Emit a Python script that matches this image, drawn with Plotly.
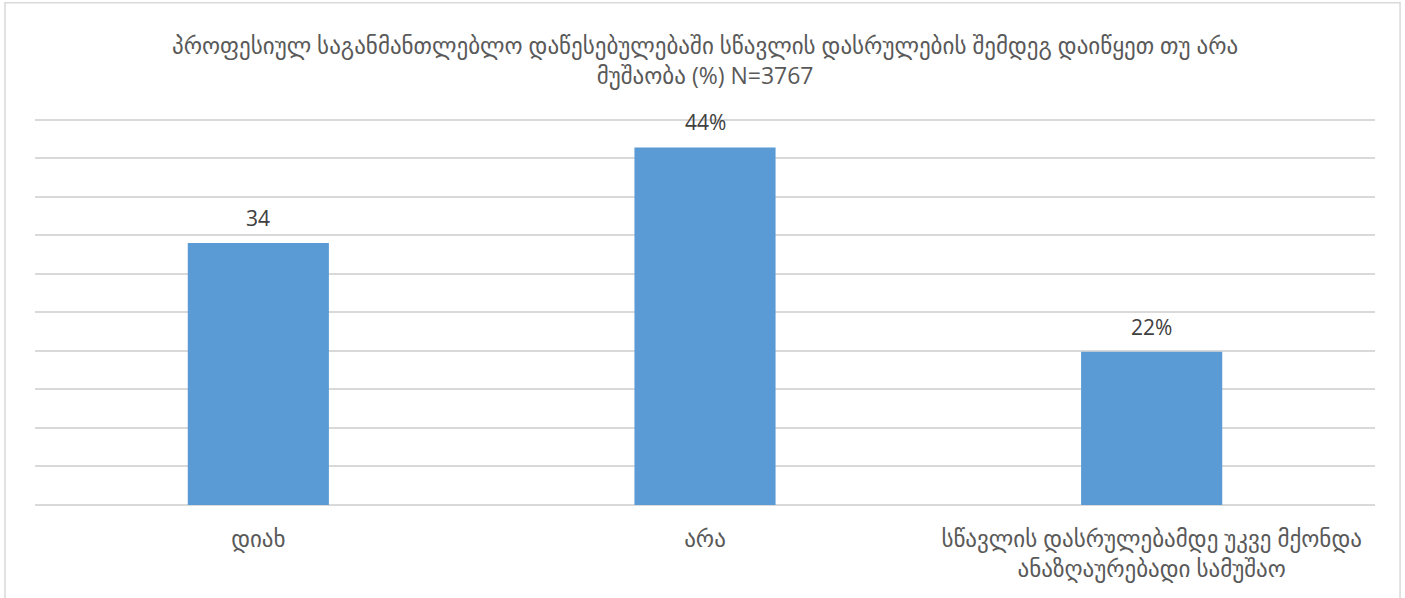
import plotly.graph_objects as go

categories = ["დიახ", "არა", "სწავლის დასრულებამდე უკვე მქონდა<br>ანაზღაურებადი სამუშაო"]
values = [34, 46.4, 19.9]
value_labels = ["34", "44%", "22%"]
title_text = "პროფესიულ საგანმანთლებლო დაწესებულებაში სწავლის დასრულების შემდეგ დაიწყეთ თუ არა<br>მუშაობა (%) N=3767"

FONT = "Open Sans, DejaVu Sans, sans-serif"
GRAY = "#595959"

fig = go.Figure(go.Bar(
    x=categories, y=values,
    marker=dict(color="#5b9bd5", line=dict(width=0)),
    hoverinfo="x+y",
))

annotations = [
    dict(x=c, y=v, text=t, xref="x", yref="y", showarrow=False,
         yanchor="bottom", yshift=9,
         font=dict(family=FONT, size=21, color="#404040"))
    for c, v, t in zip(categories, values, value_labels)
]
annotations.append(dict(
    x=0.5, y=1.133, xref="paper", yref="paper", text=title_text,
    showarrow=False, xanchor="center", yanchor="middle", align="center",
    font=dict(family=FONT, size=23, color=GRAY)))

fig.update_layout(
    width=1405, height=598,
    margin=dict(l=35, r=30, t=112, b=93),
    paper_bgcolor="white", plot_bgcolor="white",
    bargap=0.684,
    showlegend=False,
    xaxis=dict(showline=False, ticks="", ticklabelstandoff=18,
               tickfont=dict(family=FONT, size=23, color=GRAY)),
    yaxis=dict(range=[0, 51], tickvals=[0, 5, 10, 15, 20, 25, 30, 35, 40, 45, 50],
               showticklabels=False, gridcolor="#d9d9d9",
               gridwidth=1.5, zeroline=True, zerolinecolor="#d9d9d9", zerolinewidth=1.5),
    annotations=annotations,
    shapes=[dict(type="rect", xref="paper", yref="paper",
                 x0=-0.0224, x1=1.0187, y0=-0.35, y1=1.278,
                 line=dict(color="#d9d9d9", width=1.5), layer="above")],
)

fig.write_html("out.html", config={"displayModeBar": False},
               post_script="document.body.style.margin='0';")
